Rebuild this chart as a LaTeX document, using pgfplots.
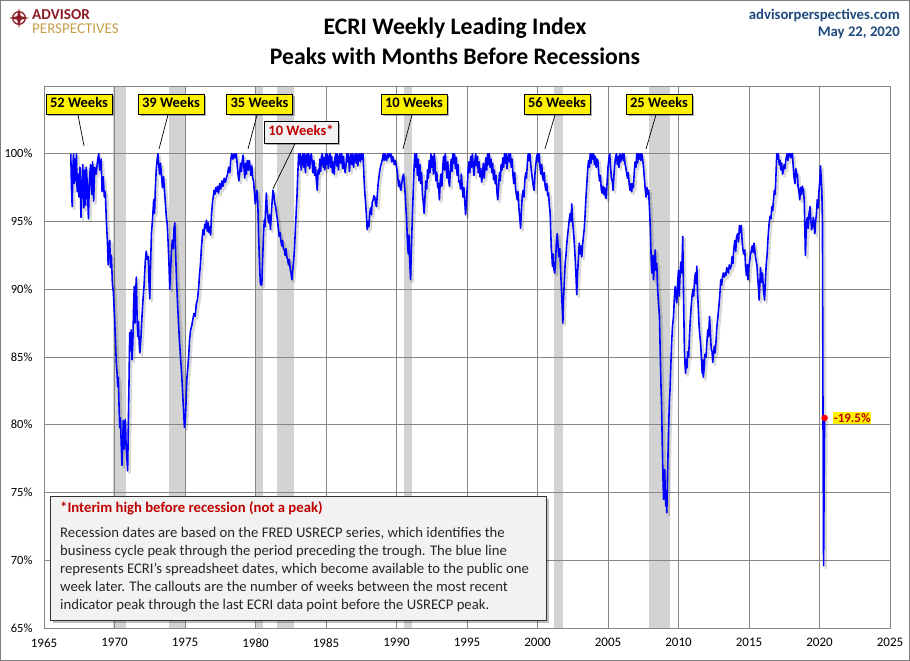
\documentclass[border=0pt]{standalone}
\usepackage{pgfplots}
\pgfplotsset{compat=1.18}
\usepackage{pgfplotstable}
\usepackage{fontspec}
\setmainfont{Carlito}
\usetikzlibrary{shadows}
\definecolor{apblue}{RGB}{0,0,255}
\definecolor{bandgray}{RGB}{211,211,211}
\definecolor{gridgray}{RGB}{134,134,134}
\definecolor{headblue}{RGB}{31,73,125}
\definecolor{apred}{RGB}{140,28,36}
\definecolor{apgold}{RGB}{198,160,72}
\definecolor{callred}{RGB}{192,0,0}
\definecolor{boxgray}{RGB}{242,242,242}

\pgfplotstableread{
x y
1966.90 100
1966.95 97.5
1967.00 96.1
1967.05 99
1967.10 100
1967.15 97.8
1967.20 99.6
1967.25 98
1967.30 100
1967.35 97.2
1967.40 98.5
1967.48 96.8
1967.55 99
1967.62 95.3
1967.68 97.5
1967.75 99.2
1967.82 96
1967.88 98.8
1967.95 96.2
1968.00 99
1968.08 97.6
1968.15 95.2
1968.22 98
1968.30 99.2
1968.38 97
1968.45 99.4
1968.52 96.5
1968.60 99
1968.70 98.5
1968.80 99.5
1968.88 100
1968.95 98.8
1969.05 99.6
1969.12 97.2
1969.20 98.3
1969.28 96.8
1969.35 97.2
1969.42 95.1
1969.50 93.5
1969.55 91.8
1969.60 93.0
1969.66 93.6
1969.72 91.6
1969.78 92.5
1969.85 90.4
1969.92 89.8
1970.00 88.0
1970.07 86.2
1970.13 84.5
1970.18 83.8
1970.23 82.8
1970.27 83.5
1970.32 81.5
1970.37 79.8
1970.42 80.5
1970.48 78.5
1970.53 77.0
1970.58 78.6
1970.62 80.3
1970.67 78.2
1970.72 79.5
1970.77 80.4
1970.82 78.5
1970.88 77.5
1970.93 76.6
1970.98 79.8
1971.03 83.2
1971.08 86.8
1971.13 85.5
1971.18 87.0
1971.24 84.8
1971.30 86.0
1971.35 88.5
1971.40 90.2
1971.45 87.5
1971.50 89.8
1971.55 90.9
1971.60 88.0
1971.65 86.5
1971.70 87.6
1971.75 86.0
1971.80 85.3
1971.88 86.5
1971.95 88.0
1972.02 89.2
1972.10 90.3
1972.18 92.0
1972.25 92.8
1972.32 92.2
1972.40 92.4
1972.45 90.5
1972.50 89.3
1972.55 91.5
1972.62 94.1
1972.70 95.2
1972.78 96.6
1972.84 95.6
1972.90 97.5
1972.96 98.8
1973.02 99.5
1973.08 100
1973.14 99.2
1973.20 98.5
1973.26 99.3
1973.32 98.6
1973.40 97.5
1973.48 98.3
1973.55 97.2
1973.62 96.2
1973.68 95.3
1973.74 94.8
1973.80 93.5
1973.86 92.0
1973.92 90.0
1973.98 91.5
1974.04 92.8
1974.10 93.6
1974.16 93.0
1974.22 94.5
1974.28 94.9
1974.34 92.5
1974.40 90.7
1974.47 89.0
1974.54 87.5
1974.60 86.3
1974.68 85.0
1974.76 83.8
1974.84 82.2
1974.90 81.0
1974.96 79.8
1975.02 80.2
1975.08 81.8
1975.14 83.5
1975.20 84.2
1975.26 85.0
1975.32 86.2
1975.40 87.0
1975.48 87.3
1975.56 87.8
1975.64 88.2
1975.72 88.0
1975.80 88.9
1975.88 89.2
1975.96 90.0
1976.04 91.2
1976.10 91.9
1976.16 93.0
1976.22 93.8
1976.28 94.4
1976.34 94.0
1976.40 94.8
1976.46 94.5
1976.52 95.1
1976.58 94.3
1976.64 94.9
1976.70 94.2
1976.76 94.6
1976.82 94.0
1976.88 95.5
1976.94 96.3
1977.00 96.8
1977.06 97.3
1977.12 97.0
1977.18 97.5
1977.24 97.2
1977.30 97.6
1977.38 97.1
1977.46 97.8
1977.54 97.4
1977.62 98.0
1977.70 97.6
1977.78 98.2
1977.86 97.9
1977.94 98.2
1978.02 98.5
1978.10 99.0
1978.18 98.6
1978.25 99.6
1978.32 100
1978.40 99.6
1978.48 100
1978.56 99.7
1978.64 100
1978.70 99.2
1978.76 98.5
1978.82 98.0
1978.88 98.6
1978.94 99.3
1979.00 98.7
1979.06 99.5
1979.12 99.9
1979.18 99.0
1979.24 98.2
1979.30 99.3
1979.36 98.5
1979.42 99.5
1979.50 98.8
1979.56 99.5
1979.62 99.0
1979.68 98.4
1979.74 99.1
1979.80 98.2
1979.86 98.0
1979.92 97.2
1979.98 96.3
1980.04 96.8
1980.10 97.3
1980.16 96.5
1980.22 94.0
1980.28 92.0
1980.34 90.5
1980.40 90.3
1980.45 90.4
1980.50 92.0
1980.56 93.8
1980.62 95.1
1980.67 94.6
1980.72 96.0
1980.77 97.1
1980.82 96.0
1980.88 95.3
1980.94 94.9
1981.00 95.5
1981.06 94.4
1981.12 95.5
1981.18 96.5
1981.24 97.3
1981.30 97.0
1981.36 96.4
1981.43 96.1
1981.50 95.5
1981.56 95.1
1981.62 94.5
1981.68 93.9
1981.74 94.2
1981.80 93.6
1981.86 93.2
1981.92 93.6
1981.98 93.0
1982.04 92.9
1982.10 92.5
1982.16 93.0
1982.22 92.4
1982.28 92.2
1982.34 91.8
1982.40 92.2
1982.46 91.5
1982.52 91.2
1982.58 90.7
1982.64 91.4
1982.70 92.0
1982.76 92.9
1982.82 94.2
1982.88 95.5
1982.94 96.8
1983.00 98.5
1983.06 100
1983.12 99.2
1983.18 100
1983.24 98.8
1983.30 99.6
1983.36 100
1983.42 99.0
1983.48 100
1983.54 98.6
1983.60 99.8
1983.66 100
1983.72 99.1
1983.78 100
1983.84 98.9
1983.90 99.7
1983.96 100
1984.02 99.3
1984.08 98.6
1984.14 99.5
1984.20 98.4
1984.26 99.0
1984.32 98.0
1984.38 97.3
1984.44 98.8
1984.50 98.5
1984.56 99.6
1984.62 98.7
1984.68 99.8
1984.74 100
1984.80 99.0
1984.86 99.7
1984.92 98.8
1984.98 100
1985.04 99.2
1985.10 100
1985.16 98.9
1985.22 99.6
1985.28 100
1985.34 99.0
1985.40 99.8
1985.46 98.6
1985.52 99.4
1985.58 98.5
1985.64 99.7
1985.70 100
1985.76 99.1
1985.82 100
1985.88 98.8
1985.94 99.6
1986.00 100
1986.06 99.3
1986.12 100
1986.18 98.9
1986.24 99.8
1986.30 99.0
1986.36 98.6
1986.42 99.2
1986.48 100
1986.54 99.4
1986.60 100
1986.66 98.7
1986.72 99.5
1986.78 100
1986.84 99.2
1986.90 100
1986.96 99.0
1987.02 99.8
1987.08 100
1987.14 99.3
1987.20 100
1987.26 99.1
1987.32 99.9
1987.38 100
1987.44 99.4
1987.50 100
1987.56 99.6
1987.62 100
1987.68 98.6
1987.74 97.3
1987.80 96.5
1987.86 95.6
1987.92 94.4
1987.98 95.0
1988.04 94.6
1988.10 95.6
1988.16 96.0
1988.22 95.5
1988.28 96.4
1988.34 96.6
1988.40 96.9
1988.46 96.8
1988.52 96.3
1988.58 96.1
1988.64 97.0
1988.70 97.8
1988.76 98.3
1988.82 98.8
1988.88 99.1
1988.94 99.3
1989.00 99.6
1989.06 100
1989.12 99.5
1989.18 100
1989.24 99.6
1989.30 99.5
1989.36 100
1989.42 99.7
1989.48 100
1989.54 99.8
1989.60 100
1989.66 99.4
1989.72 99.8
1989.78 99.6
1989.84 99.2
1989.90 99.5
1989.96 99.3
1990.02 98.9
1990.08 98.5
1990.14 97.6
1990.20 98.0
1990.26 97.5
1990.32 97.3
1990.38 97.9
1990.44 98.3
1990.50 98.5
1990.56 97.8
1990.62 97.0
1990.68 95.8
1990.72 95.1
1990.76 94.0
1990.80 93.0
1990.84 92.6
1990.88 94.0
1990.92 92.5
1990.96 91.5
1991.00 90.7
1991.04 92.5
1991.08 93.8
1991.12 95.2
1991.16 96.4
1991.20 97.6
1991.24 98.8
1991.30 100
1991.36 99.0
1991.42 100
1991.48 98.4
1991.54 99.6
1991.60 98.0
1991.66 99.2
1991.72 97.8
1991.78 98.6
1991.84 97.0
1991.90 96.4
1991.96 95.6
1992.02 96.8
1992.08 98.0
1992.14 97.4
1992.20 98.8
1992.26 98.2
1992.32 99.5
1992.38 98.6
1992.44 100
1992.50 99.0
1992.56 99.8
1992.62 98.5
1992.68 100
1992.74 99.2
1992.80 98.0
1992.86 98.6
1992.92 97.5
1992.98 97.8
1993.04 96.6
1993.10 97.9
1993.16 98.5
1993.22 97.6
1993.28 99.0
1993.34 99.8
1993.40 98.8
1993.46 100
1993.52 99.1
1993.58 98.2
1993.64 99.4
1993.70 98.0
1993.76 97.6
1993.82 98.8
1993.88 99.6
1993.94 98.7
1994.00 100
1994.06 99.3
1994.12 100
1994.18 98.9
1994.24 99.7
1994.30 98.4
1994.36 99.2
1994.42 97.9
1994.48 98.0
1994.54 97.4
1994.60 98.5
1994.66 97.6
1994.72 96.8
1994.78 97.5
1994.84 96.5
1994.90 95.5
1994.96 96.4
1995.02 97.6
1995.08 98.8
1995.14 99.4
1995.20 98.6
1995.26 99.8
1995.32 99.0
1995.38 100
1995.44 99.2
1995.50 98.4
1995.56 99.5
1995.62 100
1995.68 99.1
1995.74 99.8
1995.80 98.6
1995.86 99.4
1995.92 98.3
1995.98 98.9
1996.04 97.9
1996.10 98.5
1996.16 99.3
1996.22 98.2
1996.28 99.0
1996.34 99.7
1996.40 98.8
1996.46 100
1996.52 99.2
1996.58 100
1996.64 99.0
1996.70 99.6
1996.76 98.6
1996.82 99.3
1996.88 98.1
1996.94 98.8
1997.00 97.8
1997.06 98.4
1997.12 97.2
1997.18 96.6
1997.24 97.5
1997.30 98.6
1997.36 98.0
1997.42 99.2
1997.48 98.8
1997.54 99.7
1997.60 99.0
1997.66 100
1997.72 99.3
1997.78 100
1997.84 98.9
1997.90 99.6
1997.96 100
1998.02 99.4
1998.08 100
1998.14 99.0
1998.20 99.6
1998.26 98.4
1998.32 97.8
1998.38 98.6
1998.44 97.5
1998.50 97.0
1998.56 96.6
1998.62 97.2
1998.68 96.0
1998.74 95.3
1998.80 94.5
1998.86 95.8
1998.92 96.9
1998.98 97.3
1999.04 96.8
1999.10 98.0
1999.16 98.6
1999.22 98.2
1999.28 99.3
1999.34 100
1999.40 99.5
1999.46 100
1999.52 99.2
1999.58 98.6
1999.64 98.1
1999.70 97.6
1999.76 97.3
1999.82 98.5
1999.88 99.2
1999.94 99.8
2000.00 100
2000.06 99.4
2000.12 100
2000.18 99.0
2000.24 98.5
2000.30 99.2
2000.36 98.3
2000.42 98.0
2000.48 98.6
2000.54 97.6
2000.60 97.3
2000.66 97.8
2000.72 96.9
2000.78 97.1
2000.84 96.2
2000.90 95.6
2000.94 94.2
2000.98 93.0
2001.02 92.5
2001.06 91.7
2001.10 92.6
2001.16 91.5
2001.22 91.2
2001.28 92.0
2001.34 93.5
2001.40 94.1
2001.46 93.2
2001.52 92.4
2001.58 93.0
2001.64 91.4
2001.70 90.0
2001.76 88.5
2001.80 87.5
2001.84 89.2
2001.90 90.5
2001.96 91.9
2002.02 92.5
2002.08 93.4
2002.14 94.0
2002.20 94.6
2002.26 95.2
2002.32 95.6
2002.38 95.0
2002.43 96.3
2002.48 95.2
2002.54 94.4
2002.60 93.6
2002.66 92.5
2002.72 91.3
2002.78 89.6
2002.84 91.2
2002.90 92.2
2002.96 93.4
2003.02 92.6
2003.08 93.2
2003.14 92.4
2003.20 93.3
2003.26 93.9
2003.32 94.5
2003.38 95.6
2003.44 96.8
2003.50 97.8
2003.56 98.8
2003.62 99.5
2003.68 99.0
2003.74 100
2003.80 99.3
2003.86 100
2003.92 99.6
2003.98 100
2004.04 99.2
2004.10 99.8
2004.16 99.0
2004.22 99.6
2004.28 99.5
2004.34 98.6
2004.40 98.0
2004.46 98.4
2004.52 97.4
2004.58 97.1
2004.64 97.6
2004.70 97.0
2004.76 97.5
2004.82 96.8
2004.88 96.7
2004.94 98.0
2005.00 99.0
2005.06 99.6
2005.12 100
2005.18 99.0
2005.24 98.2
2005.30 98.0
2005.36 97.3
2005.42 98.4
2005.48 99.2
2005.54 99.8
2005.60 100
2005.66 99.2
2005.72 99.8
2005.78 99.0
2005.84 100
2005.90 99.4
2005.96 99.8
2006.02 100
2006.08 99.5
2006.14 100
2006.20 99.3
2006.26 99.0
2006.32 98.6
2006.38 98.2
2006.44 98.6
2006.50 97.8
2006.56 97.3
2006.62 97.8
2006.68 97.2
2006.74 97.8
2006.80 97.5
2006.86 98.6
2006.92 99.4
2006.98 99.0
2007.04 100
2007.10 99.3
2007.16 100
2007.22 99.6
2007.28 100
2007.34 99.5
2007.40 100
2007.46 99.6
2007.52 99.0
2007.58 98.2
2007.64 97.4
2007.70 96.8
2007.76 97.5
2007.82 97.0
2007.88 97.3
2007.94 96.0
2008.00 94.6
2008.04 93.0
2008.08 91.8
2008.12 91.2
2008.18 92.5
2008.23 90.7
2008.28 91.8
2008.35 92.9
2008.40 91.4
2008.46 91.9
2008.52 90.0
2008.58 89.0
2008.65 88.0
2008.70 85.5
2008.75 83.2
2008.80 81.4
2008.85 78.5
2008.90 76.0
2008.94 74.5
2008.98 75.2
2009.02 76.7
2009.06 75.0
2009.10 74.0
2009.14 74.8
2009.17 73.5
2009.22 76.0
2009.27 78.5
2009.32 80.5
2009.36 81.8
2009.40 82.6
2009.46 84.5
2009.52 86.2
2009.58 87.3
2009.65 88.0
2009.70 89.2
2009.76 90.2
2009.82 89.6
2009.88 89.0
2009.94 90.5
2010.00 91.4
2010.05 89.5
2010.10 90.8
2010.16 92.0
2010.22 91.2
2010.27 92.6
2010.30 93.9
2010.34 91.0
2010.38 88.0
2010.42 85.5
2010.46 84.5
2010.50 83.8
2010.55 84.8
2010.60 84.2
2010.66 85.4
2010.72 85.0
2010.78 86.6
2010.84 87.8
2010.90 88.7
2010.96 89.5
2011.02 90.0
2011.08 89.5
2011.14 90.7
2011.20 91.2
2011.26 90.4
2011.30 91.7
2011.35 89.8
2011.40 88.7
2011.46 87.3
2011.52 86.5
2011.57 86.0
2011.62 85.0
2011.68 83.8
2011.72 84.8
2011.76 83.5
2011.82 84.2
2011.88 85.2
2011.95 85.0
2012.02 86.2
2012.08 87.0
2012.14 86.5
2012.20 88.0
2012.26 86.8
2012.32 85.6
2012.38 85.4
2012.43 84.6
2012.48 85.2
2012.54 85.8
2012.60 85.3
2012.67 86.3
2012.72 87.2
2012.78 87.8
2012.86 88.7
2012.92 89.4
2013.00 90.7
2013.06 90.3
2013.12 90.9
2013.18 91.2
2013.24 90.9
2013.30 91.2
2013.36 91.0
2013.42 91.6
2013.48 91.4
2013.54 91.2
2013.60 91.8
2013.66 91.5
2013.74 91.7
2013.80 92.4
2013.86 91.9
2013.92 93.0
2014.00 93.6
2014.06 92.8
2014.12 93.9
2014.20 94.1
2014.26 93.5
2014.32 94.7
2014.38 94.2
2014.45 94.7
2014.50 93.8
2014.56 93.0
2014.62 92.6
2014.70 92.9
2014.76 91.6
2014.82 91.0
2014.88 91.8
2014.93 90.7
2014.98 91.6
2015.04 92.0
2015.10 92.5
2015.17 92.9
2015.23 93.2
2015.30 92.7
2015.35 93.4
2015.40 93.0
2015.46 92.4
2015.52 92.0
2015.57 91.7
2015.62 90.8
2015.68 90.0
2015.72 89.2
2015.76 90.2
2015.82 91.6
2015.88 90.5
2015.95 91.2
2016.00 90.4
2016.05 89.8
2016.10 89.2
2016.16 90.5
2016.22 91.8
2016.29 92.6
2016.35 93.8
2016.43 94.9
2016.50 95.4
2016.56 95.2
2016.62 96.1
2016.68 95.8
2016.74 96.6
2016.80 97.3
2016.86 97.0
2016.92 98.6
2016.97 100
2017.02 99.6
2017.08 100
2017.14 99.2
2017.20 99.5
2017.26 98.8
2017.32 99.3
2017.38 98.5
2017.43 98.7
2017.50 99.2
2017.56 98.9
2017.62 99.6
2017.70 100
2017.76 99.5
2017.82 100
2017.90 100
2017.96 99.7
2018.02 100
2018.08 100
2018.14 99.0
2018.20 98.2
2018.26 97.8
2018.32 98.9
2018.38 98.3
2018.43 98.5
2018.48 97.6
2018.54 97.2
2018.60 96.6
2018.66 97.5
2018.72 97.0
2018.78 97.6
2018.86 97.3
2018.92 96.5
2018.96 94.5
2019.00 92.5
2019.04 93.8
2019.08 95.0
2019.14 95.3
2019.20 94.5
2019.26 95.6
2019.33 96.1
2019.38 95.2
2019.44 94.4
2019.50 94.6
2019.56 95.3
2019.62 94.8
2019.67 94.1
2019.72 95.0
2019.78 95.5
2019.84 96.6
2019.90 96.0
2019.96 97.2
2020.02 98.0
2020.07 99.1
2020.12 98.2
2020.17 97.1
2020.21 94.9
2020.25 80.0
2020.29 69.6
2020.36 80.5
}\ecri

\begin{document}
\begin{tikzpicture}[x=1pt,y=1pt]
\draw[gray, line width=1pt] (0.5,0.5) rectangle (909.5,660.5);
\begin{axis}[
  at={(44pt,33pt)}, anchor=south west,
  width=846pt, height=542pt, scale only axis,
  set layers,
  xmin=1965, xmax=2025, ymin=65, ymax=105,
  xtick={1965,1970,...,2025},
  ytick={65,70,...,100},
  /pgf/number format/assume math mode=true,
  x tick label style={/pgf/number format/1000 sep={}, font=\fontsize{13}{14}\selectfont, yshift=-7pt},
  yticklabel={\pgfmathprintnumber{\tick}\%},
  y tick label style={font=\fontsize{12.5}{14}\selectfont, xshift=-8pt},
  grid=major,
  major grid style={draw=gridgray, line width=0.9pt},
  axis line style={draw=gridgray, line width=0.9pt},
  tick style={draw=none},
  clip=true,
]
% recession bands
\addplot[fill=bandgray, draw=none, on layer=axis background] coordinates {(1969.92,65) (1969.92,105) (1970.83,105) (1970.83,65)} -- cycle;
\addplot[fill=bandgray, draw=none, on layer=axis background] coordinates {(1973.83,65) (1973.83,105) (1975.05,105) (1975.05,65)} -- cycle;
\addplot[fill=bandgray, draw=none, on layer=axis background] coordinates {(1980.0,65) (1980.0,105) (1980.5,105) (1980.5,65)} -- cycle;
\addplot[fill=bandgray, draw=none, on layer=axis background] coordinates {(1981.53,65) (1981.53,105) (1982.75,105) (1982.75,65)} -- cycle;
\addplot[fill=bandgray, draw=none, on layer=axis background] coordinates {(1990.5,65) (1990.5,105) (1991.13,105) (1991.13,65)} -- cycle;
\addplot[fill=bandgray, draw=none, on layer=axis background] coordinates {(2001.2,65) (2001.2,105) (2001.82,105) (2001.82,65)} -- cycle;
\addplot[fill=bandgray, draw=none, on layer=axis background] coordinates {(2007.94,65) (2007.94,105) (2009.42,105) (2009.42,65)} -- cycle;
% shadow of the line
\addplot[black, opacity=0.15, line width=2.4pt, xshift=2pt, yshift=-2.5pt, line join=round] table[x=x,y=y]{\ecri};
% ECRI line
\addplot[apblue, line width=1.6pt, line join=round] table[x=x,y=y]{\ecri};
% latest point
\addplot[only marks, mark=*, mark size=3pt, mark options={fill=red, draw=red}] coordinates {(2020.36,80.5)};
\node[anchor=west, fill=yellow, text=callred, font=\bfseries\fontsize{13}{14}\selectfont, inner sep=1pt, xshift=8pt] at (axis cs:2020.36,80.5) {-19.5\%};
% pointers
\draw[black, line width=0.7pt] (axis cs:1967.41,102.86) -- (axis cs:1967.84,100.58);
\draw[black, line width=0.7pt] (axis cs:1973.79,102.86) -- (axis cs:1973.16,100.36);
\draw[black, line width=0.7pt] (axis cs:1980.11,102.86) -- (axis cs:1979.47,100.36);
\draw[black, line width=0.7pt] (axis cs:1982.8,100.73) -- (axis cs:1981.24,97.41);
\draw[black, line width=0.7pt] (axis cs:1991.1,102.86) -- (axis cs:1990.46,100.36);
\draw[black, line width=0.7pt] (axis cs:2001.24,102.86) -- (axis cs:2000.53,100.36);
\draw[black, line width=0.7pt] (axis cs:2008.4,102.86) -- (axis cs:2007.7,100.36);
\end{axis}
% callouts (picture coordinates, px from top -> 661-py)
\tikzset{callout/.style={draw=black, line width=0.8pt, fill=yellow,
  font=\fontsize{14.5}{16}\selectfont\bfseries, inner xsep=3pt, inner ysep=0pt,
  minimum height=20pt, minimum width=66pt, text height=10.5pt, text depth=3pt,
  drop shadow={shadow xshift=2pt, shadow yshift=-2pt, fill=black, opacity=0.3}}}
\node[callout] at (79,557) {52 Weeks};
\node[callout] at (171,557) {39 Weeks};
\node[callout] at (259.5,557) {35 Weeks};
\node[callout, fill=boxgray, text=callred, minimum width=74pt, minimum height=22pt] at (301,529) {10 Weeks*};
\node[callout] at (414,557) {10 Weeks};
\node[callout] at (557,557) {56 Weeks};
\node[callout] at (659,557) {25 Weeks};
% note box
\fill[black, opacity=0.25] (53,38) rectangle (549,162);
\draw[fill=boxgray, draw=black!80, line width=0.8pt] (50,41) rectangle (546,165);
\node[anchor=base west, inner sep=0, text=callred, font=\bfseries\fontsize{14.7}{17}\selectfont] at (60,148) {*Interim high before recession (not a peak)};
\begin{scope}[every node/.style={anchor=base west, inner sep=0, text=black!85, font=\fontsize{14.7}{17}\selectfont}]
\node at (60,123) {Recession dates are based on the FRED USRECP series, which identifies the};
\node at (60,105) {business cycle peak through the period preceding the trough. The blue line};
\node at (60,87) {represents ECRI's spreadsheet dates, which become available to the public one};
\node at (60,69) {week later. The callouts are the number of weeks between the most recent};
\node at (60,51) {indicator peak through the last ECRI data point before the USRECP peak.};
\end{scope}
% titles
\node[font=\bfseries\fontsize{23.7}{26}\selectfont] at (455,633) {ECRI Weekly Leading Index};
\node[font=\bfseries\fontsize{23.7}{26}\selectfont] at (455,605) {Peaks with Months Before Recessions};
\node[anchor=east, text=headblue, font=\bfseries\fontsize{14.7}{16}\selectfont, inner sep=0] at (900,646) {advisorperspectives.com};
\node[anchor=east, text=headblue, font=\bfseries\fontsize{14.7}{16}\selectfont, inner sep=0] at (900,628) {May 22, 2020};
% logo
\draw[apred, line width=1.3pt] (19,643) circle (6.3);
\fill[apred] (19,653) -- (20.8,644.8) -- (29,643) -- (20.8,641.2) -- (19,633) -- (17.2,641.2) -- (9,643) -- (17.2,644.8) -- cycle;
\node[anchor=base west, inner sep=0, text height=10pt, text depth=0pt, text=apred, font=\bfseries\fontsize{15.2}{16}\selectfont] at (32,641) {ADVISOR};
\node[anchor=base west, inner sep=0, text height=10pt, text depth=0pt, text=apgold, font=\fontsize{15}{16}\selectfont] at (32,627) {PERSPECTIVES};
\end{tikzpicture}
\end{document}
